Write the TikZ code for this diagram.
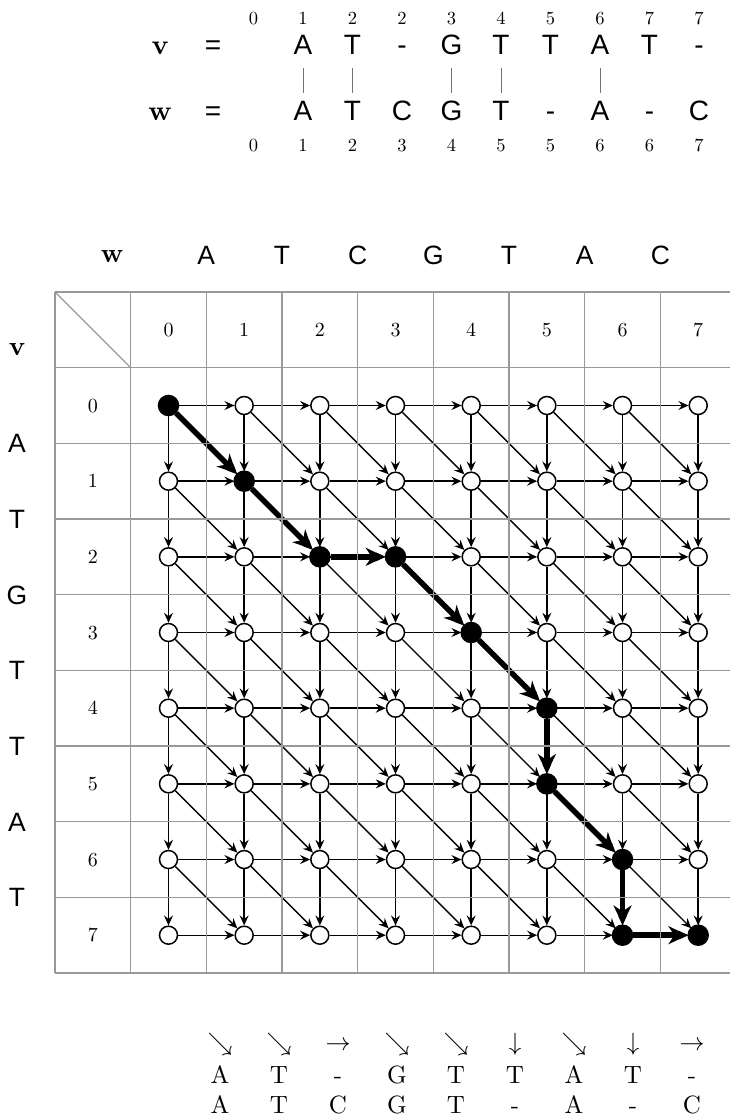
\documentclass[tikz,border=0pt]{standalone}
\usepackage{fontspec}
\newfontfamily\sansA{Liberation Sans}
\usetikzlibrary{arrows.meta}
\pgfdeclarelayer{edgelayer}
\pgfsetlayers{edgelayer,main}
\newcommand{\cmsc}[2]{\scalebox{#1}{#2}}
\begin{document}
\begin{tikzpicture}[x=1pt,y=-1pt,
 gridline/.style={draw=black!40,line width=1.2pt},
 vtx/.style={circle,draw=black,line width=1.5pt,fill=white,minimum size=18pt,inner sep=0pt},
 pathvtx/.style={circle,draw=black,line width=1.5pt,fill=black,minimum size=20pt,inner sep=0pt},
 thinarrow/.style={line width=1.4pt,-{Stealth[length=10pt,width=9pt,inset=3.5pt]}},
 pathedge/.style={line width=5.5pt,-{Stealth[length=19pt,width=18pt,inset=6pt]}},
 bigsans/.style={font=\sansA\fontsize{28}{32}\selectfont,anchor=base,inner sep=0pt},
 serif/.style={font=\fontsize{10}{12}\selectfont,anchor=base,inner sep=0pt},
 hdrsans/.style={font=\sansA\fontsize{26.5}{30}\selectfont,anchor=base,inner sep=0pt},
 barline/.style={draw=black!55,line width=1pt},
]
\useasboundingbox (0,0) rectangle (730,1116);

% ---- top alignment ----
\node[serif] (topv) at (160,55) {\cmsc{2.8}{\bfseries v}};
\node[bigsans] (topveq) at (213,55) {=};
\node[serif] (topw) at (160,120) {\cmsc{2.8}{\bfseries w}};
\node[bigsans] (topweq) at (213,120) {=};
\foreach \c [count=\k from 0] in {A,T,-,G,T,T,A,T,-}
  \node[bigsans] (tv\k) at ({303+49.5*\k},55) {\c};
\foreach \c [count=\k from 0] in {A,T,C,G,T,-,A,-,C}
  \node[bigsans] (tw\k) at ({303+49.5*\k},120) {\c};
\foreach \c [count=\k from 0] in {0,1,2,2,3,4,5,6,7,7}
  \node[serif] (tvn\k) at ({253.5+49.5*\k},25) {\cmsc{1.85}{\c}};
\foreach \c [count=\k from 0] in {0,1,2,3,4,5,5,6,6,7}
  \node[serif] (twn\k) at ({253.5+49.5*\k},151.7) {\cmsc{1.85}{\c}};
\foreach \k in {0,1,3,4,6}
  \draw[barline] ({303+49.5*\k},68) -- ({303+49.5*\k},93);

% ---- grid ----
\foreach \k in {0,...,9}
  \draw[gridline] (55,{292+75.67*\k}) -- (730,{292+75.67*\k});
\foreach \k in {0,...,8}
  \draw[gridline] ({55+75.67*\k},292) -- ({55+75.67*\k},973);
\draw[gridline] (55,292) -- (130.67,367.67);

\node[serif] (gw) at (112,262) {\cmsc{2.7}{\bfseries w}};
\foreach \c [count=\k from 0] in {A,T,C,G,T,A,C}
  \node[hdrsans] (gh\k) at ({206.33+75.67*\k},264) {\c};
\node[serif] (gv) at (17,355) {\cmsc{2.7}{\bfseries v}};
\foreach \c [count=\k from 0] in {A,T,G,T,T,A,T}
  \node[hdrsans] (gl\k) at (17,{452.8+75.67*\k}) {\c};
\foreach \k in {0,...,7} {
  \node[serif] (ch\k) at ({168.5+75.67*\k},336.5) {\cmsc{2}{\k}};
  \node[serif] (rh\k) at (92.8,{412+75.67*\k}) {\cmsc{2}{\k}};
}

% ---- vertices ----
\foreach \i in {0,...,7}
  \foreach \j in {0,...,7}
    \node[vtx] (n\i\j) at ({168.5+75.67*\j},{405.5+75.67*\i}) {};
\foreach \i/\j in {0/0,1/1,2/2,2/3,3/4,4/5,5/5,6/6,7/6,7/7}
  \node[pathvtx] (b\i\j) at (n\i\j) {};

% ---- edges ----
\begin{pgfonlayer}{edgelayer}
\foreach \i in {0,...,7}
  \foreach \j in {0,...,7} {
    \pgfmathtruncatemacro\ni{\i+1}
    \pgfmathtruncatemacro\nj{\j+1}
    \ifnum\j<7 \draw[thinarrow] (n\i\j) -- (n\i\nj); \fi
    \ifnum\i<7 \draw[thinarrow] (n\i\j) -- (n\ni\j); \fi
    \ifnum\i<7 \ifnum\j<7 \draw[thinarrow] (n\i\j) -- (n\ni\nj); \fi\fi
  }
\foreach \a/\b in {00/11,11/22,22/23,23/34,34/45,45/55,55/66,66/76,76/77}
  \draw[pathedge] (b\a) -- (b\b);
\end{pgfonlayer}

% ---- bottom alignment ----
\foreach \c [count=\k from 0] in {\searrow,\searrow,\rightarrow,\searrow,\searrow,\downarrow,\searrow,\downarrow,\rightarrow}
  \node[serif] (ba\k) at ({220+59*\k},1050) {\cmsc{2.5}{$\c$}};
\foreach \c [count=\k from 0] in {A,T,-,G,T,T,A,T,-}
  \node[serif] (bv\k) at ({220+59*\k},1083) {\cmsc{2.5}{\c}};
\foreach \c [count=\k from 0] in {A,T,C,G,T,-,A,-,C}
  \node[serif] (bw\k) at ({220+59*\k},1113) {\cmsc{2.5}{\c}};
\end{tikzpicture}
\end{document}
